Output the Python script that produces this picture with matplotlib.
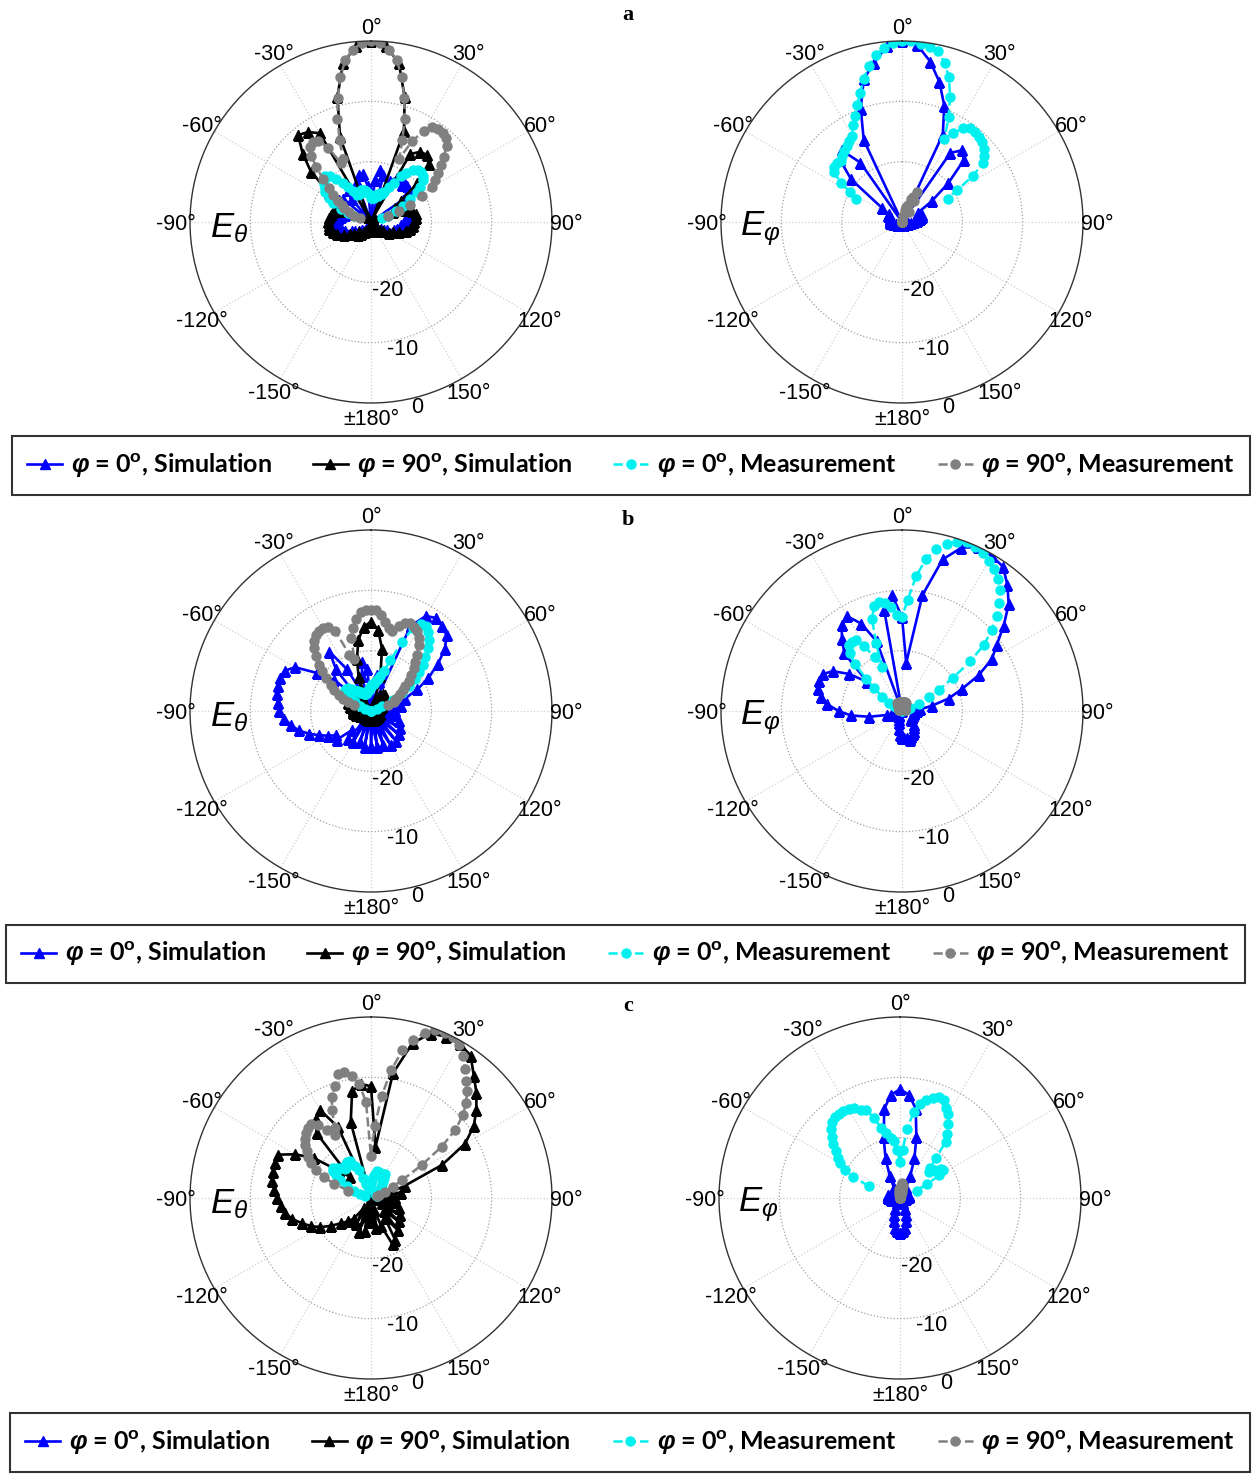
import matplotlib.pyplot as plt
import matplotlib.transforms as mtransforms
import numpy as np
from matplotlib.lines import Line2D

plt.rcParams['font.family'] = ['Liberation Sans', 'DejaVu Sans']
plt.rcParams['mathtext.fontset'] = 'custom'
plt.rcParams['mathtext.rm'] = 'Liberation Sans'
plt.rcParams['mathtext.it'] = 'Liberation Sans:italic'
plt.rcParams['mathtext.bf'] = 'Liberation Sans:bold'
plt.rcParams['mathtext.bfit'] = 'Liberation Sans:bold:italic'

# angle grids (deg): simulation every 5 deg all round, measurement every 3 deg
SIM_DEG = np.arange(-180, 180, 5)
MEAS_DEG = np.arange(-72, 73, 3)
nan = np.nan

# ---- (a) ----
A_TH_SIM0 = [-29, -29.5, -29, -28.5, -29, -28.5, -28, -28.5, -28, -27.5, -28, -27.5,
             -27, -26.5, -25.5, -25, -24.5, -24, -24, -24.5, -25, -25.5, -26, -24.5,
             -24, -23.5, -24, -30, -25, -23.5, -24.5, -30, -23, -22, -22, -24,
             -30, -23, -21.2, -22, -30, -22.5, -21.5, -21, -22, -21.5, -21.7, -23.5,
             -30, -24, -23.5, -23.5, -23.5, -24, -24.5, -25, -25, -25.5, -26, -27,
             -27.5, -28, -28, -28.5, -28.5, -29, -28.5, -29, -29, -29.5, -29, -29.5]
A_TH_SIM90 = [-28.5, -29, -28.5, -29, -28.5, -28.5, -28, -28, -27.5, -27, -27.5, -26.5,
              -26, -25, -24, -23.5, -23, -23, -22.8, -23, -23.2, -23.5, -24.5, -25,
              -24, -21.5, -17, -14, -11.2, -11.8, -13, -29, -15, -8.5, -3.3, -0.8,
              0, -0.8, -3.3, -8.5, -14, -29, -17, -15.8, -15.5, -16.5, -20, -24,
              -25.5, -26, -24, -23, -22.5, -22.5, -22.8, -23, -23.5, -24, -25, -26,
              -26.5, -27.5, -28, -28.5, -28, -28.5, -29, -28.5, -29, -28.5, -29, -28.5]
A_TH_MEAS0 = [-27, -26, -24.5, -23, -22, -21, -20.5, -20, -19.5, -19.3, -19.8, -20.8,
              -22, -23, -24, -25, -25, -25, -24.5, -24.5, -24.5, -24.8, -25.2, -25.6,
              -26, -26, -26, -25.5, -25.5, -25.5, -25, -25, -24.5, -23.5, -22.5, -21,
              -20, -19, -18.3, -18.2, -18.5, -19, -20, -21, -22.5, -24, -25.5, -27,
              -28]
A_TH_MEAS90 = [-28, -27, -26, -25, -24.5, -23.5, -22.3, -21, -19.3, -17.2, -15.2, -14,
               -13.6, -13.9, -15.8, -19, -18.5, -15.5, -12, -8.7, -5.5, -2.8, -1.3, -0.3,
               0, -0.3, -1.3, -2.8, -5.5, -8.7, -12, -15.5, -18.5, -15, -12.5, -11.3,
               -11, -11, -11.3, -12.3, -13.8, -15, -16.3, -17.3, -18.3, -20.5, -23, -25,
               -27]

A_PH_SIM0 = [-29.5, -29.5, -29.5, -29.5, -29.5, -29.5, -29.5, -29.5, -29.5, -29.5, -29.5, -29.5,
             -29.5, -29, -29, -28.5, -28.5, -28, -28, -28, -28, -28, -28, -27.5,
             -27.5, -26, -19, -15.5, -14.5, -18, -30, -15, -10, -5.5, -3.2, -0.8,
             0, -0.6, -3, -6, -9.5, -14, -30, -16, -14.5, -15.5, -20, -24,
             -27, -27, -26.5, -26.5, -27, -27.5, -28, -28.5, -29, -29, -29.5, -29.5,
             -29.5, -29.5, -29.5, -29.5, -29.5, -29.5, -29.5, -29.5, -29.5, -29.5, -29.5, -29.5]
A_PH_MEAS0 = [nan, nan, nan, -21.5, -20, -18, -16, -15.5, -15.5, -15.6, -15.2, -14.8,
              -14.5, -14, -13.5, -12, -10.8, -9.3, -7.5, -5.5, -3.5, -2, -1, -0.3,
              0, 0, -0.3, -0.6, -1, -2.7, -4.8, -7.8, -11, -14.5, -13, -11.5,
              -10.8, -10.8, -11, -11.3, -11.8, -12.5, -13.4, -16, -19.5, -21.5, nan, nan,
              nan]
A_PH_MEAS90 = [-30, -30, -30, -30, -30, -30, -30, -30, -30, -30, -30, -30,
               -30, -30, -30, -30, -30, -30, -30, -30, -30, -30, -30, -30,
               -30, -30, -30, -29, -28, -27.5, -27, -26, -25.5, -24.5, -26, -28,
               -30, -30, -30, -30, -30, -30, -30, -30, -30, -30, -30, -30,
               -30]

# ---- (b) ----
B_TH_SIM0 = [-24, -29, -24, -28.5, -24.5, -28.5, -24, -27.5, -24, -25.5, -22.6, -23,
             -21.8, -20.5, -19, -17.6, -16.5, -15.6, -14.8, -14.5, -14.2, -14, -14, -14.2,
             -15.5, -19, -22, -27, -21, -18, -22, -27, -30, -24, -21.8, -23,
             -30, -25, -24, -25, -30, -14.5, -11.8, -11.2, -11.6, -12.3, -14, -16.5,
             -19, -21.5, -24, -26, -25, -27, -26, -28, -26, -28, -25, -28,
             -24.5, -28, -24, -28, -23.5, -28, -23.5, -27, -24, -28, -24, -28]
B_TH_SIM90 = [-28.5, -29, -28.5, -29, -28.5, -29, -28.5, -29, -28.5, -29, -28.5, -29,
              -28.5, -28, -28, -27.5, -27.5, -27, -27, -27, -26.5, -26.5, -26, -26,
              -26, -25.5, -26, -27, -27.5, -28, -27, -26, -24, -21, -18, -16,
              -15.2, -16.5, -19.5, -24, -28, -28, -27, -26.5, -26.5, -27, -27, -27.5,
              -27.5, -28, -28, -28.5, -28.5, -29, -29, -29, -29, -29, -28.5, -28.5,
              -28.5, -28.5, -28.5, -28.5, -28.5, -28.5, -28.5, -28.5, -28.5, -28.5, -28.5, -28.5]
B_TH_MEAS0 = [-30, -30, -29, -28, -27, -26, -25, -24.5, -24.5, -24.5, -25, -25.5,
              -26, -26, -26.5, -26.5, -27, -27, -27, -27, -27, -26.5, -26.5, -26,
              -26, -25.5, -25.5, -25, -24.5, -24, -23, -21, -17.5, -14.5, -13.3, -13.2,
              -13.8, -14.8, -16, -17.3, -18.5, -19.7, -21, -22.5, -24, -26, -28, -29,
              -30]
B_TH_MEAS90 = [-27, -26, -25, -24, -23, -22, -20.8, -19.5, -18.5, -17.2, -16, -15,
               -14.5, -14.2, -14.2, -14.3, -15.4, -20, -21, -17.5, -16, -14.5, -13.5, -13.2,
               -13.2, -13.3, -14, -15, -16, -16.3, -15.2, -14.3, -14, -14.3, -14.6, -15.5,
               -16.5, -18, -19, -20, -21, -22, -23, -23.7, -24.5, -25.2, -25.7, -26,
               -27]

B_PH_SIM0 = [-25.5, -26, -27, -28, -28.5, -29, -29, -29, -29, -29, -29, -29,
             -29, -28.5, -28, -27.5, -24.5, -21.5, -19.5, -17.6, -16.3, -15.6, -15.3, -15.5,
             -16.8, -19.3, -22.5, -16.5, -14.5, -12.6, -11.9, -14, -17.7, -30, -13, -10.7,
             -14.4, -22, -10.5, -4, -1.2, 0, -0.3, -0.8, -2.8, -5, -8, -10.8,
             -12.8, -16, -19.5, -22, -25, -27, -27.5, -28, -28, -28, -28, -28,
             -28, -28, -28, -28, -27, -26.5, -26, -25.8, -25.5, -25, -25.5, -25.5]
B_PH_MEAS0 = [-30, -30, -29.5, -29, -28.5, -27.5, -26, -24, -22, -19, -17, -16,
              -15.8, -16, -17.5, -20, -22, -18, -14, -12, -11.5, -11.8, -12.6, -14,
              -14.4, -11.5, -7.5, -4.5, -2.5, -1.3, -0.5, 0, -0.2, -0.6, -1.2, -2,
              -3, -4.3, -6, -7.8, -10, -12.5, -16, -20, -23, -25, -27, -28.5,
              -29]
B_PH_MEAS90 = [-29.5, -29.5, -29.5, -29.5, -29.5, -29.5, -29.5, -29.5, -29.5, -29.5, -29.5, -29.5,
               -29, -29, -28.5, -28.5, -28.5, -28.5, -28.5, -28.5, -28.5, -28.5, -28.5, -28.5,
               -28.5, -28.5, -28.5, -28.5, -28.5, -28.5, -28.5, -28.5, -28.5, -29, -29, -29.5,
               -29.5, -29.5, -29.5, -29.5, -29.5, -29.5, -29.5, -29.5, -29.5, -29.5, -29.5, -29.5,
               -29.5]

# ---- (c) ----
C_TH_SIM90 = [-26, -29, -24.5, -27, -24, -28, -25, -28, -25.5, -24.5, -23.5, -22,
              -20.3, -19, -17.8, -16.5, -15.6, -15, -14.4, -13.9, -13.4, -13.2, -13.1, -13,
              -15.5, -18.5, -23, -25, -16, -14, -13.2, -17, -30, -17, -12, -11,
              -11.5, -21.5, -9, -3.4, -1, -0.5, -0.5, -1.2, -3.5, -5.3, -7.2, -9.2,
              -12, -17, -24, -27, -25, -28, -26, -29, -26, -28, -25, -28,
              -24.5, -27, -24, -27, -23, -26, -22, -21.5, -25, -28, -25, -28]
C_TH_MEAS0 = [-29, -28, -27, -25.5, -24, -23, -22.3, -22, -22.5, -23, -23.5, -23.5,
              -23, -22.8, -23, -24, -25, -26.5, -27.5, -28, -28.5, -28.5, -28.5, -28,
              -27.5, -27, -26.5, -26, -25.5, -25.5, -25.5, -26, -26, -25.5, -25.5, -26,
              -26.5, -27, -27.5, -28, -28, -28.5, -29, -29, -29, -29, -29, -29,
              -29]
C_TH_MEAS90 = [-26, -23.5, -21.4, -19.8, -18.5, -17.5, -16.8, -16, -15.3, -14.7, -14.4, -14.3,
               -15, -16.5, -18, -17, -14, -12, -10.5, -8.7, -8.6, -9.5, -11, -14,
               -23, -18, -13, -8.5, -5, -2.9, -1.2, -0.2, 0, 0, -0.8, -2,
               -3.5, -5, -6.2, -7.7, -9.5, -12, -15.5, -20, -24, -26, -27.5, -28.5,
               -29]

C_PH_SIM0 = [-24.2, -24.5, -25, -26, -27, -28, -29, -29.5, -29.5, -29.5, -29.5, -29.5,
             -29.5, -29.5, -29, -29, -28.5, -28.5, -28, -28, -28, -28, -28.5, -28.5,
             -28.5, -29, -29, -29, -29, -29, -28, -26, -23, -19.5, -15, -12.8,
             -12, -12.8, -15, -19.5, -23, -26, -28, -29, -29, -29, -29, -29,
             -29, -29, -29, -28.5, -28.5, -28.5, -29, -29, -29.5, -29.5, -29.5, -29.5,
             -29.5, -29.5, -29.5, -29.5, -29.5, -29.5, -29, -28, -27, -26, -25, -24.5]
C_PH_MEAS0 = [nan, -24.5, -21.5, -19.8, -18.5, -17.8, -16.8, -15.8, -14.8, -13.8, -13.1, -12.8,
              -12.7, -12.8, -13, -13.3, -14, -14.3, -16, -18, -19, -20, -20.5, -22,
              -24, -22, -18.5, -15.5, -14, -13.2, -12.5, -12, -12.2, -13.2, -14, -15.3,
              -16.8, -18, -21, -23, -23.5, -22.5, -21.7, -21.5, -22.5, -25, -27, nan,
              nan]
C_PH_MEAS90 = [-30, -30, -30, -30, -30, -30, -30, -30, -30, -30, -30, -30,
               -30, -30, -30, -30, -30, -30, -30, -30, -29.5, -29, -28.5, -28.5,
               -28.5, -28, -28, -27.5, -28, -28.5, -29, -29.5, -30, -30, -30, -30,
               -30, -30, -30, -30, -30, -30, -30, -30, -30, -30, -30, -30,
               -30]

THETA_TICKS = np.arange(0, 360, 30)
THETA_LABELS = ['0°', '30°', '60°', '90°', '120°', '150°', '±180°',
                '-150°', '-120°', '-90°', '-60°', '-30°']
RING_LABELS = ['-20', '-10', '0']
LEGEND_LABELS = [r'$\mathbfit{\varphi}$ = 0$^{\mathbf{o}}$, Simulation',
                 r'$\mathbfit{\varphi}$ = 90$^{\mathbf{o}}$, Simulation',
                 r'$\mathbfit{\varphi}$ = 0$^{\mathbf{o}}$, Measurement',
                 r'$\mathbfit{\varphi}$ = 90$^{\mathbf{o}}$, Measurement']

BLUE, BLACK, CYAN, GRAY = '#0000ff', '#000000', '#00f0f0', '#808080'
SIM_STYLE = dict(linestyle='-', linewidth=1.9, marker='^', markersize=7)
MEAS_STYLE = dict(linestyle='--', linewidth=1.8, marker='o', markersize=6.5)

W, H = 1259, 1479
RPX = 181

# (centre x, centre y, field label, sim phi=0, sim phi=90, meas phi=0, meas phi=90)
PANELS = [
    (371, 222, r'$E_\theta$', A_TH_SIM0, A_TH_SIM90, A_TH_MEAS0, A_TH_MEAS90),
    (902, 222, r'$E_\varphi$', A_PH_SIM0, None, A_PH_MEAS0, A_PH_MEAS90),
    (371, 711, r'$E_\theta$', B_TH_SIM0, B_TH_SIM90, B_TH_MEAS0, B_TH_MEAS90),
    (902, 711, r'$E_\varphi$', B_PH_SIM0, None, B_PH_MEAS0, B_PH_MEAS90),
    (371, 1198, r'$E_\theta$', None, C_TH_SIM90, C_TH_MEAS0, C_TH_MEAS90),
    (900, 1198, r'$E_\varphi$', C_PH_SIM0, None, C_PH_MEAS0, C_PH_MEAS90),
]


def closed(values):
    th = np.deg2rad(np.append(SIM_DEG, 180))
    return th, np.append(values, values[0])


def draw_pattern(fig, cx, cy, name, sim0, sim90, meas0, meas90):
    ax = fig.add_axes([(cx - RPX) / W, 1 - (cy + RPX) / H, 2 * RPX / W, 2 * RPX / H],
                      projection='polar')
    ax.set_theta_zero_location('N')
    ax.set_theta_direction(-1)
    ax.set_rlim(-30, 0)
    ax.set_xticks(np.deg2rad(THETA_TICKS))
    ax.set_xticklabels([])
    ax.set_yticks([-20, -10])
    ax.set_yticklabels([])
    ax.xaxis.grid(True, color='#d0d0d0', linestyle=':', linewidth=0.9)
    ax.yaxis.grid(True, color='#a0a0a0', linestyle=':', linewidth=0.9)
    ax.spines['polar'].set_color('#333333')
    ax.spines['polar'].set_linewidth(1.0)

    if sim0 is not None:
        ax.plot(*closed(sim0), color=BLUE, **SIM_STYLE)
    if sim90 is not None:
        ax.plot(*closed(sim90), color=BLACK, **SIM_STYLE)
    mt = np.deg2rad(MEAS_DEG)
    if meas0 is not None:
        ax.plot(mt, meas0, color=CYAN, **MEAS_STYLE)
    if meas90 is not None:
        ax.plot(mt, meas90, color=GRAY, **MEAS_STYLE)

    # angle labels sit just outside the rim, nudged slightly down
    shifted = mtransforms.offset_copy(ax.transData, fig=fig, y=-2, units='dots')
    for ang, txt in zip(THETA_TICKS, THETA_LABELS):
        ax.text(np.deg2rad(ang), 2.35, txt, transform=shifted, ha='center',
                va='center', fontsize=15.5, clip_on=False)
    for val, txt in zip([-20, -10, 0], RING_LABELS):
        ax.text(np.deg2rad(166), val + 1.7, txt, ha='center', va='center',
                fontsize=15.5, clip_on=False)
    ax.text(np.deg2rad(-92.5), -6.5, name, ha='center', va='center', fontsize=25)
    return ax


fig = plt.figure(figsize=(W / 100, H / 100), dpi=100)

for p in PANELS:
    draw_pattern(fig, *p)

handles = [Line2D([], [], color=BLUE, **SIM_STYLE),
           Line2D([], [], color=BLACK, **SIM_STYLE),
           Line2D([], [], color=CYAN, **MEAS_STYLE),
           Line2D([], [], color=GRAY, **MEAS_STYLE)]

# legend boxes (pixel extents) and panel letters
for (x0, x1, y0, y1), letter, ly in [((12, 1250, 437, 494), 'a', 15),
                                     ((6, 1245, 925, 983), 'b', 520),
                                     ((10, 1250, 1413, 1472), 'c', 1006)]:
    leg = fig.legend(handles, LEGEND_LABELS, loc='center', ncol=4, mode='expand',
                     bbox_to_anchor=(x0 / W, 1 - y1 / H, (x1 - x0) / W, (y1 - y0) / H),
                     borderaxespad=0, frameon=True, fancybox=False, edgecolor='black',
                     numpoints=1, handlelength=1.4, handletextpad=0.35,
                     borderpad=0.6, prop=dict(family='Lato', weight='bold', size=18))
    leg.get_frame().set_linewidth(1.5)
    fig.text(628 / W, 1 - ly / H, letter, family='Liberation Serif', weight='bold',
             size=16, ha='center', va='center')

fig.savefig('out.png', dpi=100)
